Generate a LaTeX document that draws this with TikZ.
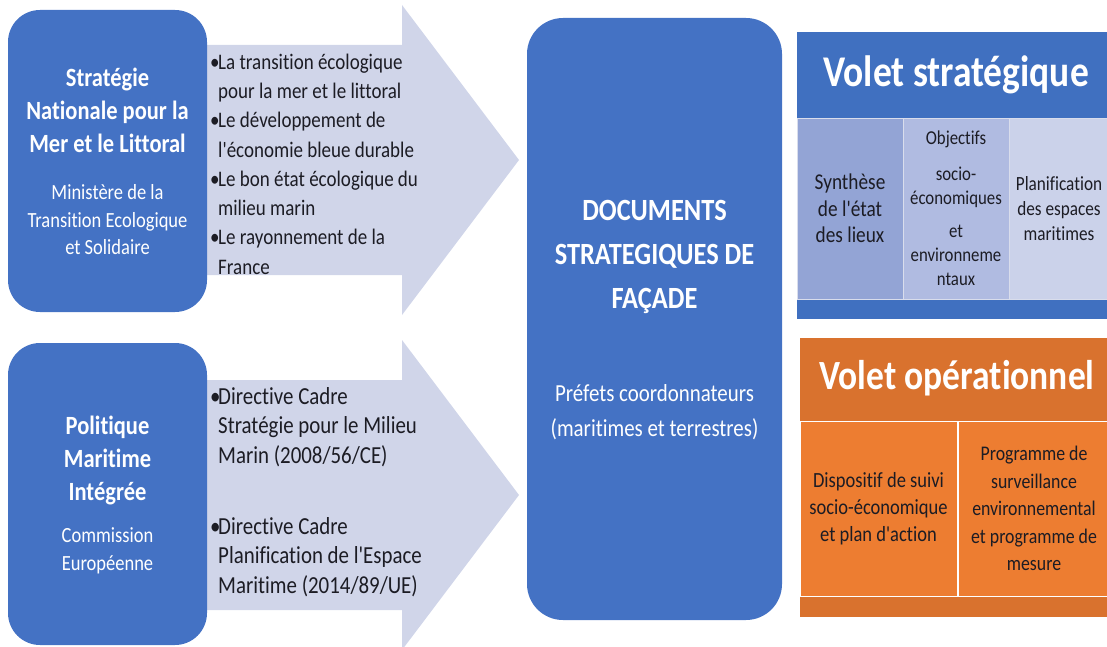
\documentclass[tikz,border=0pt]{standalone}
\usepackage{fontspec}
\setmainfont{Carlito}[Ligatures={NoCommon}]
\usetikzlibrary{positioning}

\definecolor{bleuoff}{HTML}{4472C4}
\definecolor{bleufonce}{HTML}{4070C0}
\definecolor{lavande}{HTML}{D0D5E9}
\definecolor{celluleA}{HTML}{93A4D5}
\definecolor{celluleB}{HTML}{B0BBE1}
\definecolor{celluleC}{HTML}{CBD2EA}
\definecolor{trait}{HTML}{D9DDEC}
\definecolor{orangeoff}{HTML}{ED7D31}
\definecolor{orangefonce}{HTML}{D9722E}
\definecolor{encre}{HTML}{1C1C24}

\newcommand{\puce}{\makebox[8pt][l]{\textbullet}}
\newcommand{\suite}{\hspace*{8pt}}
\newcommand{\apos}{\textquotesingle}

\begin{document}
\begin{tikzpicture}[x=1pt,y=-1pt,
	etire/.style={yscale=1.17,transform shape},
	bloc/.style={fill=bleuoff,rounded corners=32pt,minimum width=199pt,minimum height=302pt,inner sep=0pt},
	titre/.style={etire,text=white,align=center,font=\fontsize{22.5}{28.2}\selectfont\bfseries},
	soustitre/.style={etire,text=white,align=center,font=\fontsize{18.5}{23.5}\selectfont},
	fleche/.style={fill=lavande},
	liste/.style={etire,anchor=west,align=left,text=encre,inner sep=0pt},
	bandeau/.style={anchor=north west,inner sep=0pt,minimum width=310pt},
	cellule/.style={etire,draw=trait,line width=0.9pt,inner sep=0pt,text=encre,align=center},
]
	\useasboundingbox (0,0) rectangle (1107,647);

	% fleches
	\fill[fleche] (150,45) -- (402,45) -- (402,5) -- (519,160) -- (402,315) -- (402,275) -- (150,275) -- cycle;
	\fill[fleche] (150,380) -- (402,380) -- (402,340) -- (519,495) -- (402,650) -- (402,610) -- (150,610) -- cycle;

	% strategie nationale
	\node[bloc] (snml) at (107.5,161) {};
	\node[titre] (snml-titre) at (107.5,110) {Stratégie\\Nationale pour la\\Mer et le Littoral};
	\node[soustitre] (snml-min) at (107.5,220) {Ministère de la\\Transition Ecologique\\et Solidaire};
	\node[liste,font=\fontsize{19}{25}\selectfont] (snml-liste) at (210,164) {\puce La transition écologique\\\suite pour la mer et le littoral\\\puce Le développement de\\\suite l\apos économie bleue durable\\\puce Le bon état écologique du\\\suite milieu marin\\\puce Le rayonnement de la\\\suite France};

	% politique maritime
	\node[bloc] (pmi) at (107.5,494) {};
	\node[titre] (pmi-titre) at (107.5,460) {Politique\\Maritime\\Intégrée};
	\node[soustitre] (pmi-ce) at (107.5,551) {Commission\\Européenne};
	\node[liste,font=\fontsize{20.9}{25.2}\selectfont] (pmi-liste) at (210,492) {\puce Directive Cadre\\\suite Stratégie pour le Milieu\\\suite Marin (2008/56/CE)\\[35.5pt]\puce Directive Cadre\\\suite Planification de l\apos Espace\\\suite Maritime (2014/89/UE)};

	% documents strategiques
	\node[bloc,minimum width=255pt,minimum height=602pt,rounded corners=36pt] (dsf) at (654.5,319) {};
	\node[titre,font=\fontsize{26.4}{38}\selectfont\bfseries] (dsf-titre) at (654.5,257) {DOCUMENTS\\STRATEGIQUES DE\\FAÇADE};
	\node[soustitre,font=\fontsize{20.9}{29.9}\selectfont] (dsf-prefets) at (654.5,412) {Préfets coordonnateurs\\(maritimes et terrestres)};

	% volet strategique
	\node[bandeau,fill=bleufonce,minimum height=287pt] (vs) at (797,32) {};
	\node[etire,text=white,font=\fontsize{37.5}{44}\selectfont\bfseries] (vs-titre) at (956,75) {Volet stratégique};
	\node[cellule,fill=celluleA,minimum width=106pt,minimum height=154.7pt,font=\fontsize{19.3}{22.6}\selectfont] (vs-synthese) at (850,208.5) {Synthèse\\de l\apos état\\des lieux};
	\node[cellule,fill=celluleB,minimum width=106pt,minimum height=154.7pt,font=\fontsize{16.8}{20.5}\selectfont] (vs-objectifs) at (956,208.5) {Objectifs\\[10.3pt]socio-\\économiques\\[7.7pt]et\\environneme\\ntaux};
	\node[cellule,fill=celluleC,minimum width=100pt,minimum height=154.7pt,font=\fontsize{17.2}{21.4}\selectfont] (vs-planif) at (1059,208.5) {Planification\\des espaces\\maritimes};

	% volet operationnel
	\node[bandeau,fill=orangefonce,minimum height=279pt] (vo) at (800,338) {};
	\node[etire,text=white,font=\fontsize{35.5}{42}\selectfont\bfseries] (vo-titre) at (957,378) {Volet opérationnel};
	\node[cellule,draw=white,fill=orangeoff,minimum width=157pt,minimum height=149.6pt,font=\fontsize{18.5}{23.1}\selectfont] (vo-suivi) at (878.5,508.5) {Dispositif de suivi\\socio-économique\\et plan d\apos action};
	\node[cellule,draw=white,fill=orangeoff,minimum width=152pt,minimum height=149.6pt,font=\fontsize{17.8}{23.5}\selectfont] (vo-surv) at (1034,508.5) {Programme de\\surveillance\\environnemental\\et programme de\\mesure};
\end{tikzpicture}
\end{document}
